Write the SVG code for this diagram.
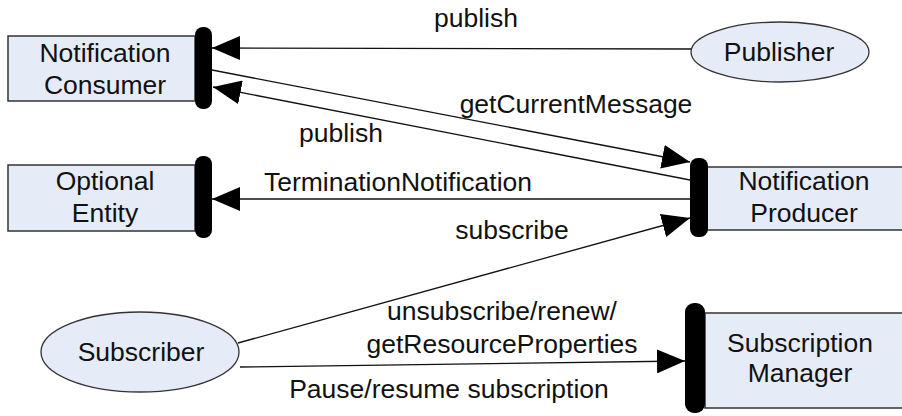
<svg xmlns="http://www.w3.org/2000/svg" width="902" height="416" viewBox="0 0 902 416">
<style>
.box{fill:#e6ecf7;stroke:#333;stroke-width:1.5}
.bar{fill:#000}
.ell{fill:#e6ecf7;stroke:#333;stroke-width:1.3}
.t{font-family:"Liberation Sans",Arial,sans-serif;font-size:26.5px;fill:#111;text-anchor:middle}
.c{stroke:#111;stroke-width:1.3;fill:none;marker-end:url(#ah)}
</style>
<defs>
<marker id="ah" markerUnits="userSpaceOnUse" markerWidth="30" markerHeight="24" refX="28" refY="12" orient="auto">
<path d="M0,0 L28,12 L0,24 Z" fill="#000"/>
</marker>
</defs>
<rect width="902" height="416" fill="#fff"/>
<g id="connectors">
<line class="c" x1="691" y1="49" x2="212" y2="48"/>
<line class="c" x1="212" y1="70" x2="690" y2="162"/>
<line class="c" x1="690" y1="180" x2="213" y2="87"/>
<line class="c" x1="690" y1="199" x2="212" y2="199"/>
<line class="c" x1="238" y1="343" x2="690" y2="218"/>
<line class="c" x1="240" y1="367" x2="685" y2="361"/>
<text class="t" x="476" y="27">publish</text>
<text class="t" x="576" y="113">getCurrentMessage</text>
<text class="t" x="341" y="142">publish</text>
<text class="t" x="398" y="191">TerminationNotification</text>
<text class="t" x="512" y="239">subscribe</text>
<text class="t" x="502" y="320">unsubscribe/renew/</text>
<text class="t" x="502" y="353">getResourceProperties</text>
<text class="t" x="449" y="398">Pause/resume subscription</text>
</g>
<g id="consumer">
<rect class="box" x="8" y="36" width="187" height="65"/>
<rect class="bar" x="195" y="27" width="17" height="82" rx="8"/>
<text class="t" x="105" y="62">Notification</text>
<text class="t" x="105" y="94">Consumer</text>
</g>
<g id="optional">
<rect class="box" x="8" y="165" width="187" height="66"/>
<rect class="bar" x="195" y="156" width="17" height="82" rx="8"/>
<text class="t" x="105" y="190">Optional</text>
<text class="t" x="105" y="222">Entity</text>
</g>
<g id="producer">
<rect class="box" x="707" y="167" width="200" height="63"/>
<rect class="bar" x="690" y="158" width="18" height="79" rx="8"/>
<text class="t" x="804" y="190">Notification</text>
<text class="t" x="804" y="222">Producer</text>
</g>
<g id="submgr">
<rect class="box" x="705" y="313" width="200" height="95"/>
<rect class="bar" x="685" y="303" width="20" height="110" rx="9"/>
<text class="t" x="800" y="352">Subscription</text>
<text class="t" x="800" y="382">Manager</text>
</g>
<g id="subscriber">
<ellipse class="ell" cx="140" cy="352" rx="99" ry="40"/>
<text class="t" x="141" y="361">Subscriber</text>
</g>
<g id="publisher">
<ellipse class="ell" cx="780" cy="52" rx="89" ry="30"/>
<text class="t" x="779" y="61">Publisher</text>
</g>
</svg>
